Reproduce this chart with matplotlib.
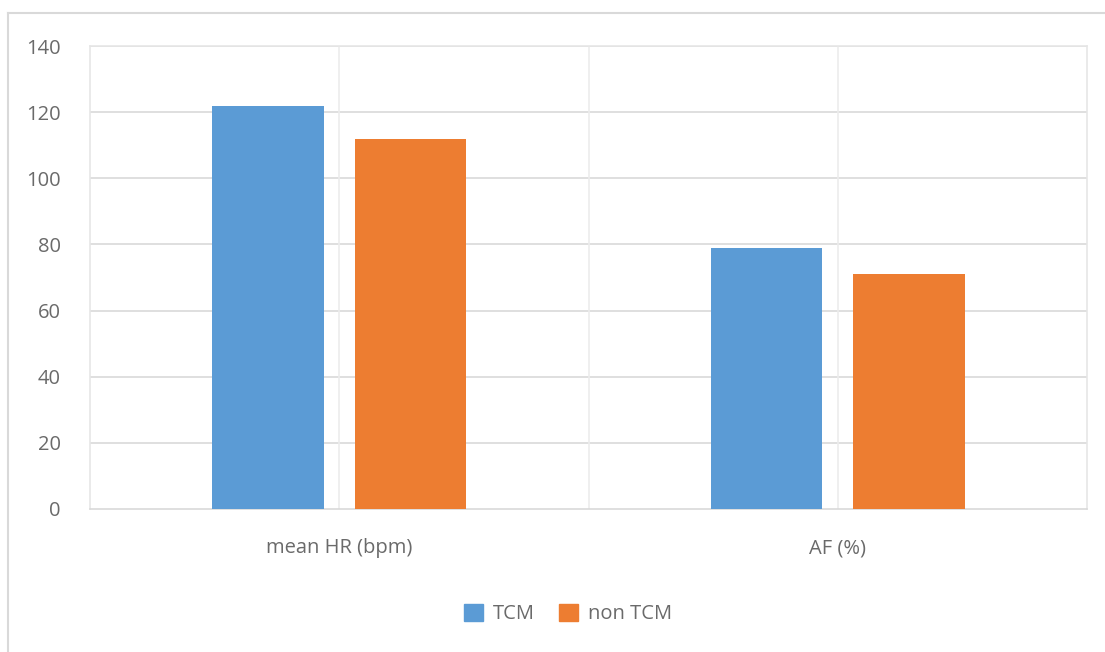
import matplotlib.pyplot as plt
import matplotlib.patches as mpatches
from matplotlib.lines import Line2D
import numpy as np

categories = ["mean HR (bpm)", "AF (%)"]
series_names = ["TCM", "non TCM"]
tcm = [122, 79]
non_tcm = [112, 71]
y_ticks = [0, 20, 40, 60, 80, 100, 120, 140]

blue = "#5b9bd5"
orange = "#ed7d31"
text_col = "#6a6a6a"

plt.rcParams["font.family"] = ["Open Sans", "DejaVu Sans"]

fig = plt.figure(figsize=(11.05, 6.52), dpi=100)
ax = fig.add_axes([90 / 1105, 1 - 509 / 652, 997 / 1105, 463 / 652])

x = np.arange(len(categories))
w = 0.223
off = 0.143
ax.bar(x - off, tcm, w, color=blue, zorder=3, label=series_names[0])
ax.bar(x + off, non_tcm, w, color=orange, zorder=3, label=series_names[1])

ax.set_xlim(-0.5, 1.5)
ax.set_ylim(0, 140)
ax.set_yticks(y_ticks)
ax.set_xticks(x)
ax.set_xticklabels(categories)
ax.tick_params(length=0, labelsize=14.5, colors=text_col)
ax.tick_params(axis="y", pad=21)
ax.tick_params(axis="x", pad=21)

# grid
for v in y_ticks[1:]:
    ax.axhline(v, color="#d9d9d9", lw=1.2, zorder=1)
for v in [0, 0.5, 1]:
    ax.axvline(v, color="#ececec", lw=1.2, zorder=1)
for s in ax.spines.values():
    s.set_color("#e6e6e6")
    s.set_linewidth(1.2)
ax.spines["bottom"].set_color("#d9d9d9")

# outer chart border (left and top visible)
fig.add_artist(Line2D([8 / 1105, 8 / 1105], [0, 1 - 13 / 652], color="#d9d9d9", lw=1.5))
fig.add_artist(Line2D([8 / 1105, 1], [1 - 13 / 652, 1 - 13 / 652], color="#d9d9d9", lw=1.5))

handles = [mpatches.Patch(color=blue), mpatches.Patch(color=orange)]
fig.legend(handles, series_names, loc="center", bbox_to_anchor=(568 / 1105, 1 - 614 / 652),
           ncol=2, frameon=False, fontsize=14.5, labelcolor=text_col,
           handlelength=0.95, handleheight=0.95, handletextpad=0.5, columnspacing=1.15)

fig.savefig("out.png", dpi=100)
